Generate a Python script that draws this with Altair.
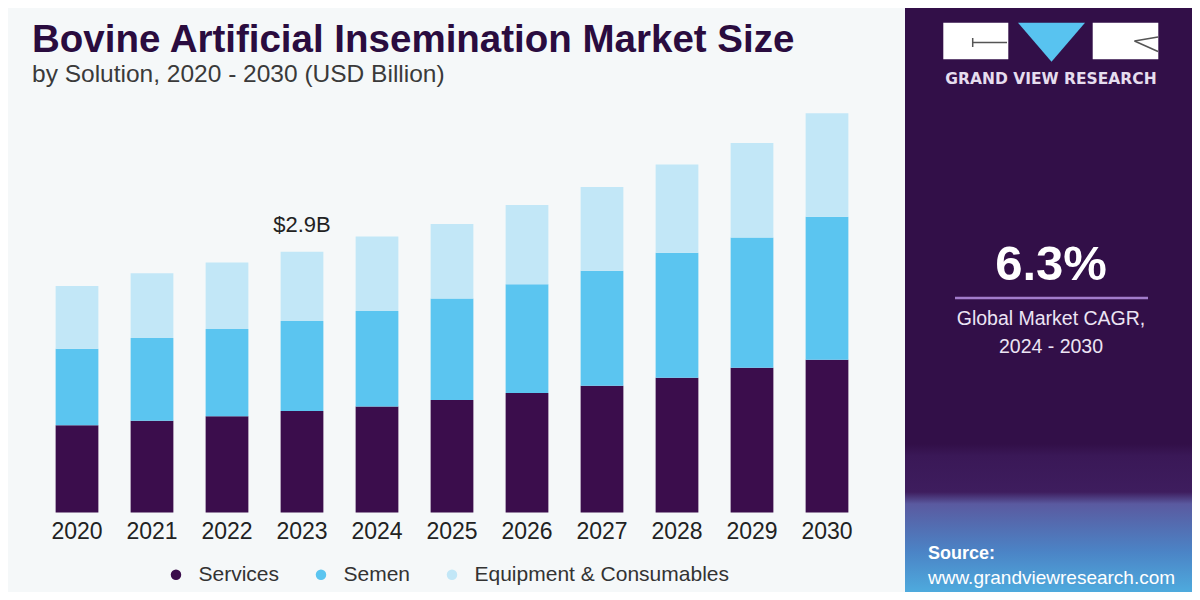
import altair as alt
import pandas as pd

# ---------------- data ----------------
years = ["2020", "2021", "2022", "2023", "2024", "2025", "2026", "2027", "2028", "2029", "2030"]
segments = ["Services", "Semen", "Equipment & Consumables"]
services = [0.97, 1.02, 1.07, 1.13, 1.18, 1.25, 1.33, 1.41, 1.50, 1.61, 1.70]
semen = [0.85, 0.92, 0.97, 1.00, 1.06, 1.13, 1.21, 1.28, 1.39, 1.45, 1.59]
equipment = [0.70, 0.72, 0.74, 0.77, 0.83, 0.83, 0.88, 0.93, 0.98, 1.05, 1.15]
seg_colors = ["#3b0d4c", "#5bc5f0", "#c2e7f7"]

label_year = "2023"
label_text = "$2.9B"

title_text = "Bovine Artificial Insemination Market Size"
subtitle_text = "by Solution, 2020 - 2030 (USD Billion)"
brand_text = "GRAND VIEW RESEARCH"
cagr_value = "6.3%"
cagr_line1 = "Global Market CAGR,"
cagr_line2 = "2024 - 2030"
source_label = "Source:"
source_url = "www.grandviewresearch.com"

# ---------------- tables ----------------
rows = []
for i, y in enumerate(years):
    for k, (seg, vals) in enumerate(zip(segments, [services, semen, equipment])):
        rows.append({"year": y, "segment": seg, "value": vals[i], "ord": k})
df = pd.DataFrame(rows)

idx = years.index(label_year)
df_label = pd.DataFrame({
    "year": [label_year],
    "total": [services[idx] + semen[idx] + equipment[idx]],
    "text": [label_text],
})
one = pd.DataFrame({"a": [0]})

FONT = "Liberation Sans"

# ---------------- bars ----------------
x_enc = alt.X(
    "year:N", sort=years, title=None,
    scale=alt.Scale(paddingInner=0.43, paddingOuter=0.215),
    axis=alt.Axis(labelAngle=0, domain=False, ticks=False, tickSize=0, labelPadding=7.5,
                  labelFontSize=23, labelFont=FONT, labelColor="#222222", grid=False),
)
y_scale = alt.Scale(domain=[0, 4.588], nice=False, zero=True)

bars = alt.Chart(df).mark_bar().encode(
    x=x_enc,
    y=alt.Y("value:Q", stack="zero", axis=None, scale=y_scale),
    color=alt.Color(
        "segment:N", sort=segments,
        scale=alt.Scale(domain=segments, range=seg_colors),
        legend=alt.Legend(
            title=None, orient="none", legendX=126, legendY=464, direction="horizontal",
            symbolType="circle", symbolSize=110, symbolStrokeWidth=0,
            labelFontSize=21, labelFont=FONT, labelColor="#333333", labelOffset=12,
            columnPadding=31, labelLimit=400, padding=0,
        ),
    ),
    order=alt.Order("ord:Q", sort="ascending"),
)

value_label = alt.Chart(df_label).mark_text(
    dy=-19.5, baseline="alphabetic", fontSize=22, font=FONT, color="#222222"
).encode(
    x=alt.X("year:N", sort=years),
    y=alt.Y("total:Q", scale=y_scale),
    text="text:N",
)

# ---------------- titles ----------------
title = alt.Chart(one).mark_text(
    text=title_text, align="left", baseline="alphabetic", fontSize=38.5, fontWeight="bold",
    font=FONT, color="#2a0c3f"
).encode(x=alt.value(-7.5), y=alt.value(-48))

subtitle = alt.Chart(one).mark_text(
    text=subtitle_text, align="left", baseline="alphabetic", fontSize=24.5,
    font=FONT, color="#3a3a3a"
).encode(x=alt.value(-7.5), y=alt.value(-18))

# ---------------- right panel ----------------
panel_grad = alt.LinearGradient(
    gradient="linear", x1=0, x2=0, y1=0, y2=1,
    stops=[
        alt.GradientStop(color="#320f48", offset=0.0),
        alt.GradientStop(color="#320f48", offset=0.74),
        alt.GradientStop(color="#3a1857", offset=0.76),
        alt.GradientStop(color="#3e1d5e", offset=0.82),
        alt.GradientStop(color="#5a5aa0", offset=0.84),
        alt.GradientStop(color="#4b84c6", offset=0.92),
        alt.GradientStop(color="#4fb2e2", offset=1.0),
    ],
)
panel = alt.Chart(one).mark_rect(color=panel_grad).encode(
    x=alt.value(865.5), x2=alt.value(1170), y=alt.value(-100), y2=alt.value(500)
)

logo_left = alt.Chart(one).mark_rect(color="#ffffff").encode(
    x=alt.value(903.8), x2=alt.value(968.8), y=alt.value(-77.3), y2=alt.value(-40.7)
)
logo_right = alt.Chart(one).mark_rect(color="#ffffff").encode(
    x=alt.value(1053.2), x2=alt.value(1118.8), y=alt.value(-77.3), y2=alt.value(-40.7)
)
logo_tri = alt.Chart(one).mark_point(
    shape="M-1,-0.58L1,-0.58L0,0.58Z", size=4489, filled=True, opacity=1,
    color="#58c3f0", strokeWidth=0
).encode(x=alt.value(1012), y=alt.value(-57.7))

line_a = alt.Chart(one).mark_rule(color="#555555", strokeWidth=1.5).encode(
    x=alt.value(933.2), x2=alt.value(967.5), y=alt.value(-57.5), y2=alt.value(-57.5))
line_b = alt.Chart(one).mark_rule(color="#555555", strokeWidth=1.5).encode(
    x=alt.value(933.2), x2=alt.value(933.2), y=alt.value(-62), y2=alt.value(-53))
line_c = alt.Chart(one).mark_rule(color="#555555", strokeWidth=1.5).encode(
    x=alt.value(1095), x2=alt.value(1118.5), y=alt.value(-59), y2=alt.value(-48.5))
line_d = alt.Chart(one).mark_rule(color="#555555", strokeWidth=1.5).encode(
    x=alt.value(1095), x2=alt.value(1118.5), y=alt.value(-59), y2=alt.value(-63))

brand = alt.Chart(one).mark_text(
    text=brand_text, align="center", baseline="middle", fontSize=15.5, fontWeight="bold",
    font="DejaVu Sans", color="#e6ddee"
).encode(x=alt.value(1011.5), y=alt.value(-21))

cagr = alt.Chart(one).mark_text(
    text=cagr_value, align="center", baseline="alphabetic", fontSize=49, fontWeight="bold",
    font=FONT, color="#ffffff"
).encode(x=alt.value(1011.5), y=alt.value(180))

cagr_rule = alt.Chart(one).mark_rule(color="#a27ccb", strokeWidth=2.5).encode(
    x=alt.value(915.5), x2=alt.value(1108.5), y=alt.value(198), y2=alt.value(198))

cagr_t1 = alt.Chart(one).mark_text(
    text=cagr_line1, align="center", baseline="middle", fontSize=19.5,
    font=FONT, color="#ece4f4"
).encode(x=alt.value(1011.5), y=alt.value(219))
cagr_t2 = alt.Chart(one).mark_text(
    text=cagr_line2, align="center", baseline="middle", fontSize=19.5,
    font=FONT, color="#ece4f4"
).encode(x=alt.value(1011.5), y=alt.value(247))

src1 = alt.Chart(one).mark_text(
    text=source_label, align="left", baseline="middle", fontSize=18, fontWeight="bold",
    font=FONT, color="#ffffff"
).encode(x=alt.value(888.5), y=alt.value(454))
src2 = alt.Chart(one).mark_text(
    text=source_url, align="left", baseline="middle", fontSize=19,
    font=FONT, color="#ffffff"
).encode(x=alt.value(888.5), y=alt.value(478))

chart = alt.layer(
    panel, logo_left, logo_right, logo_tri, line_a, line_b, line_c, line_d,
    brand, cagr, cagr_rule, cagr_t1, cagr_t2, src1, src2,
    bars, value_label, title, subtitle,
).properties(
    width=825, height=412.5,
    padding={"left": 31.5, "top": 92, "right": 327.5, "bottom": 79.5},
    autosize=alt.AutoSizeParams(type="none"),
    view=alt.ViewBackground(stroke="transparent", strokeWidth=0),
).configure_view(strokeWidth=0, stroke="transparent").configure(background="#f5f8f9")

chart.save("out.html", embed_options={"renderer": "svg", "actions": False})
